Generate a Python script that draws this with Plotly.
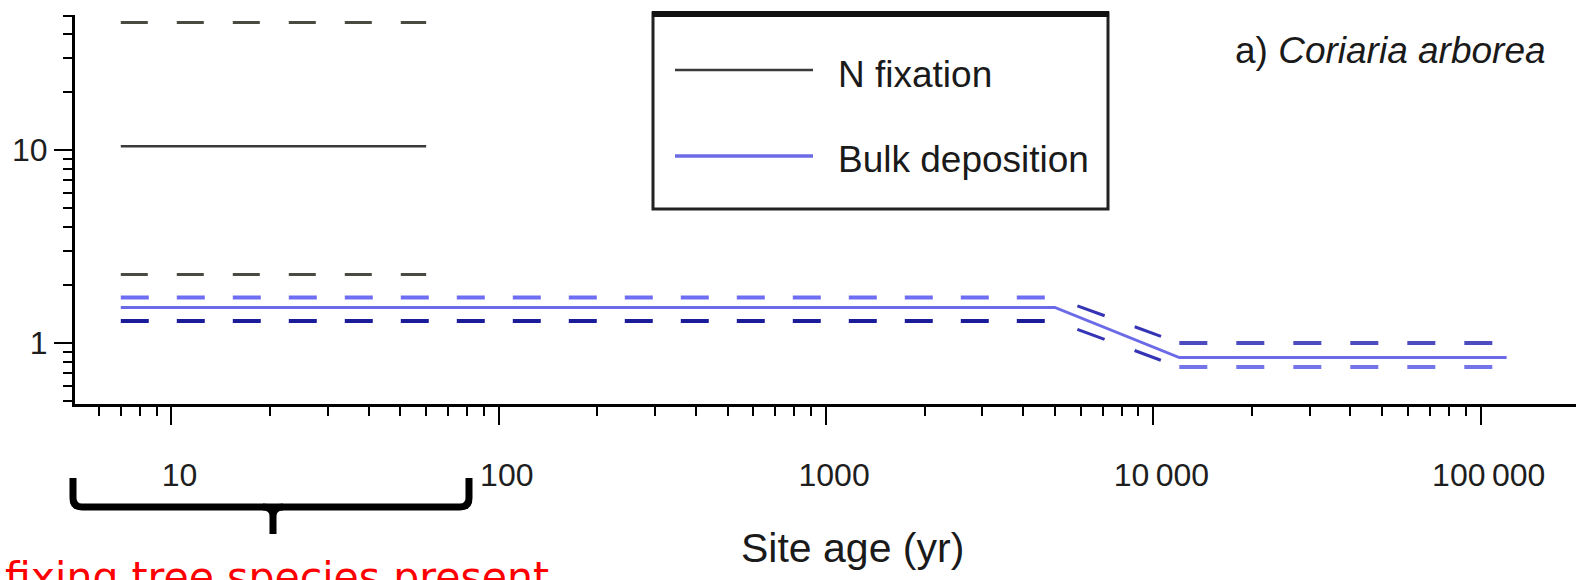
import math
import plotly.graph_objects as go

# ---- N inputs along the chronosequence (site age in years) ----
nfix_age = [7, 60]
nfix_mean = [10.5, 10.5]
nfix_upper = [46, 46]
nfix_lower = [2.27, 2.27]

dep_age = [7, 5000, 12000, 120000]
dep_mean = [1.53, 1.53, 0.84, 0.84]
dep_upper = [1.72, 1.72, 1.0, 1.0]
dep_lower = [1.30, 1.30, 0.75, 0.75]

x_tickvals = [10, 100, 1000, 10000, 100000]
x_ticktext = ["10", "100", "1000", "10\u2009000", "100\u2009000"]
y_tickvals = [1, 10]
y_ticktext = ["1", "10"]

series_names = ["N fixation", "Bulk deposition"]
panel_label = "a) <i>Coriaria arborea</i>"
x_title = "Site age (yr)"
bracket_note = "fixing tree species present"

# ---- page geometry (pixels) ----
W, H = 1576, 580
L, R, T, B = 75, 1576, 15, 404


def fx(px):
    return (px - L) / (R - L)


def fy(py):
    return (B - py) / (B - T)


FONT = "Liberation Sans, Arial, Helvetica, sans-serif"
BLACK_LINE = "#3a3a3a"
BLACK_DASH = "#4a4a42"
BLUE_LINE = "#6b6be8"

fig = go.Figure()

# N fixation: mean and its bounds
fig.add_trace(go.Scatter(x=nfix_age, y=nfix_upper, mode="lines",
                         line=dict(color=BLACK_DASH, width=3, dash="27px,29px"),
                         hoverinfo="skip"))
fig.add_trace(go.Scatter(x=nfix_age, y=nfix_lower, mode="lines",
                         line=dict(color=BLACK_DASH, width=3, dash="27px,29px"),
                         hoverinfo="skip"))
fig.add_trace(go.Scatter(x=nfix_age, y=nfix_mean, mode="lines", name=series_names[0],
                         line=dict(color=BLACK_LINE, width=2.5)))

# Bulk deposition bounds, drawn piece by piece (flat / decline / flat)
segment_styles = [
    # (start index, end index, upper colour, lower colour, width, dash pattern)
    (0, 1, "#6e6ef2", "#1c1c9a", 4, "28px,28px"),
    (1, 2, "#3434b4", "#3434b4", 3, "0px,24px,29px,32px,28px,200px"),
    (2, 3, "#4c4cc0", "#7474ea", 4, "28px,29px"),
]
for i0, i1, c_up, c_lo, w, dash in segment_styles:
    fig.add_trace(go.Scatter(x=dep_age[i0:i1 + 1], y=dep_upper[i0:i1 + 1], mode="lines",
                             line=dict(color=c_up, width=w, dash=dash), hoverinfo="skip"))
    fig.add_trace(go.Scatter(x=dep_age[i0:i1 + 1], y=dep_lower[i0:i1 + 1], mode="lines",
                             line=dict(color=c_lo, width=w, dash=dash), hoverinfo="skip"))

fig.add_trace(go.Scatter(x=dep_age, y=dep_mean, mode="lines", name=series_names[1],
                         line=dict(color=BLUE_LINE, width=3)))

# minor tick positions on both log axes
x_minor = [m * 10 ** e for e in range(0, 6) for m in range(2, 10) if 5 <= m * 10 ** e <= 2e5]
y_minor = [m * 10.0 ** e for e in (-1, 0, 1) for m in range(2, 10) if 0.5 <= m * 10.0 ** e <= 50]

tick_font = dict(family=FONT, size=32, color="#1e1e1e")

fig.update_xaxes(
    type="log", range=[0.7052, 5.2912],
    showline=True, linecolor="black", linewidth=3,
    showgrid=False, zeroline=False,
    tickmode="array", tickvals=x_tickvals, ticktext=x_ticktext,
    ticks="outside", ticklen=18, tickwidth=2, tickcolor="black",
    tickfont=tick_font, ticklabelstandoff=23, ticklabelshift=8,
    minor=dict(tickmode="array", tickvals=x_minor, ticks="outside",
               ticklen=9, tickwidth=2, tickcolor="black", showgrid=False),
)
fig.update_yaxes(
    type="log", range=[-0.3166, 1.7020],
    showline=True, linecolor="black", linewidth=3,
    showgrid=False, zeroline=False,
    tickmode="array", tickvals=y_tickvals, ticktext=y_ticktext,
    ticks="outside", ticklen=18, tickwidth=2, tickcolor="black",
    tickfont=tick_font, ticklabelstandoff=0,
    minor=dict(tickmode="array", tickvals=y_minor, ticks="outside",
               ticklen=9, tickwidth=2, tickcolor="black", showgrid=False),
)

shapes = []
# legend frame with heavier top edge
shapes.append(dict(type="rect", xref="paper", yref="paper",
                   x0=fx(653), x1=fx(1108), y0=fy(209), y1=fy(13),
                   line=dict(color="#222", width=3), fillcolor="rgba(0,0,0,0)"))
shapes.append(dict(type="line", xref="paper", yref="paper",
                   x0=fx(652), x1=fx(1109), y0=fy(14), y1=fy(14),
                   line=dict(color="#111", width=6)))
# legend swatches
shapes.append(dict(type="line", xref="paper", yref="paper",
                   x0=fx(675), x1=fx(813), y0=fy(70), y1=fy(70),
                   line=dict(color=BLACK_LINE, width=2.5)))
shapes.append(dict(type="line", xref="paper", yref="paper",
                   x0=fx(675), x1=fx(813), y0=fy(156), y1=fy(156),
                   line=dict(color=BLUE_LINE, width=3.5)))


def p(px, py):
    return f"{fx(px):.5f},{fy(py):.5f}"


# curly bracket below the axis
brace = (f"M {p(73, 478)} L {p(73, 498)} Q {p(73, 507)} {p(82, 507)} "
         f"L {p(460, 507)} Q {p(469, 507)} {p(469, 498)} L {p(469, 478)}")
spike = f"M {p(263, 507)} Q {p(273, 507)} {p(273, 516)} L {p(273, 534)} M {p(283, 507)} Q {p(273, 507)} {p(273, 516)}"
shapes.append(dict(type="path", xref="paper", yref="paper", path=brace,
                   line=dict(color="black", width=7)))
shapes.append(dict(type="path", xref="paper", yref="paper", path=spike,
                   line=dict(color="black", width=7)))

annotations = [
    dict(text=series_names[0], xref="paper", yref="paper", x=fx(836), y=fy(74),
         xanchor="left", yanchor="middle", showarrow=False,
         font=dict(family=FONT, size=37, color="#1a1a1a")),
    dict(text=series_names[1], xref="paper", yref="paper", x=fx(836), y=fy(159),
         xanchor="left", yanchor="middle", showarrow=False,
         font=dict(family=FONT, size=37, color="#1a1a1a")),
    dict(text=panel_label, xref="paper", yref="paper", x=fx(1233), y=fy(50),
         xanchor="left", yanchor="middle", showarrow=False,
         font=dict(family=FONT, size=37, color="#1a1a1a")),
    dict(text=x_title, xref="paper", yref="paper", x=fx(853), y=fy(548),
         xanchor="center", yanchor="middle", showarrow=False,
         font=dict(family=FONT, size=41, color="#1a1a1a")),
    dict(text=bracket_note, xref="paper", yref="paper", x=fx(3), y=fy(551),
         xanchor="left", yanchor="top", showarrow=False,
         font=dict(family="DejaVu Sans, sans-serif", size=41, color="#ff0000")),
]

fig.update_layout(
    width=W, height=H, autosize=False,
    margin=dict(l=L, r=W - R, t=T, b=H - B, pad=0),
    paper_bgcolor="white", plot_bgcolor="white",
    showlegend=False,
    shapes=shapes, annotations=annotations,
)

fig.write_html("out.html")
